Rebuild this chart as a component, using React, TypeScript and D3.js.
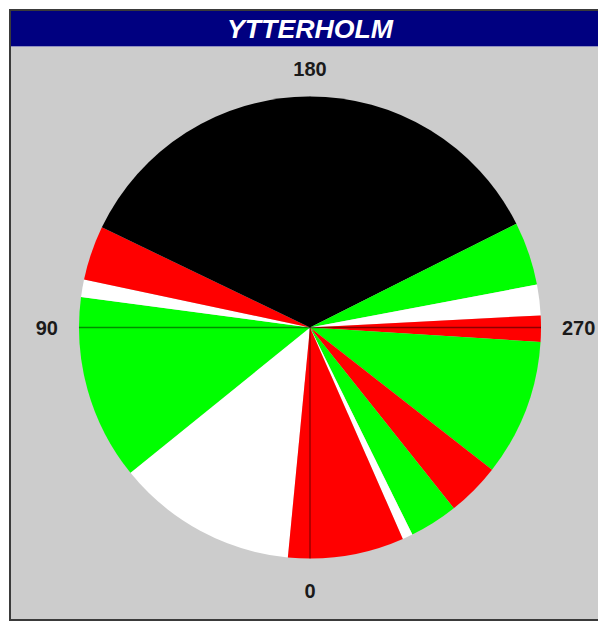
import React from 'react';
import * as d3 from 'd3';

// Sector boundaries in degrees (0 = bottom, growing clockwise toward 90 = left)
const sectorStart = [5.5, 51, 97.6, 102, 115.7, 243.3, 259.3, 267, 273.6, 308, 321.5, 333.7, 336.3];
const sectorEnd = [51, 97.6, 102, 115.7, 243.3, 259.3, 267, 273.6, 308, 321.5, 333.7, 336.3, 365.5];
const sectorClass = ['white', 'green', 'white', 'red', 'black', 'green', 'white', 'red', 'green', 'red', 'green', 'white', 'red'];

const classNames = ['black', 'red', 'green', 'white'];
const classColors = ['#000000', '#ff0000', '#00ff00', '#ffffff'];

const angleTicks = [0, 90, 180, 270];
const title = 'YTTERHOLM';

const width = 598;
const height = 624;
const cx = 310;
const cy = 327.5;
const radius = 231;

export default function App() {
	// reference angle -> d3.arc angle (0 at 12 o'clock, clockwise)
	const angle = d3.scaleLinear().domain([0, 360]).range([Math.PI, 3 * Math.PI]);
	const color = d3.scaleOrdinal<string, string>().domain(classNames).range(classColors);

	const arc = d3.arc<{ s: number; e: number }>()
		.innerRadius(0)
		.outerRadius(radius)
		.startAngle(d => angle(d.s))
		.endAngle(d => angle(d.e));

	const sectors = sectorStart.map((s, i) => ({ s, e: sectorEnd[i], c: sectorClass[i] }));

	const labelR = 252;
	const labels = angleTicks.map(t => {
		const a = angle(t);
		const dx = Math.sin(a);
		const dy = -Math.cos(a);
		const anchor = dx > 0.5 ? 'start' : dx < -0.5 ? 'end' : 'middle';
		const shift = dy < -0.5 ? 0 : dy > 0.5 ? 18 : 7;
		return { t, x: cx + dx * labelR, y: cy + dy * labelR + shift, anchor };
	});

	return (
		<svg width={width} height={height} style={{ position: 'absolute', left: 0, top: 0 }}
			fontFamily="'Liberation Sans', Arial, sans-serif">
			<rect x={0} y={0} width={width} height={height} fill="#ffffff" />
			<rect x={10} y={10} width={620} height={610} fill="#cccccc" stroke="#3a3a3a" strokeWidth={2} />
			<rect x={11} y={11} width={620} height={35} fill="#000080" />
			<line x1={11} x2={width} y1={46.5} y2={46.5} stroke="#8f8fc0" strokeWidth={1} />
			<text x={cx} y={38} textAnchor="middle" fill="#ffffff" fontSize={25} fontWeight="bold"
				fontStyle="italic" textLength={166} lengthAdjust="spacingAndGlyphs">{title}</text>

			<g transform={`translate(${cx},${cy})`}>
				{sectors.map((d, i) => (
					<path key={i} d={arc(d) ?? ''} fill={color(d.c)} />
				))}
				<line x1={-radius} x2={radius} y1={0} y2={0} stroke="#000" strokeOpacity={0.45} strokeWidth={1.3} />
				<line x1={0} x2={0} y1={-radius} y2={radius} stroke="#000" strokeOpacity={0.45} strokeWidth={1.3} />
			</g>

			{labels.map(l => (
				<text key={l.t} x={l.x} y={l.y} textAnchor={l.anchor} fontSize={20} fontWeight="bold" fill="#1a1a1a">
					{l.t}
				</text>
			))}
		</svg>
	);
}
